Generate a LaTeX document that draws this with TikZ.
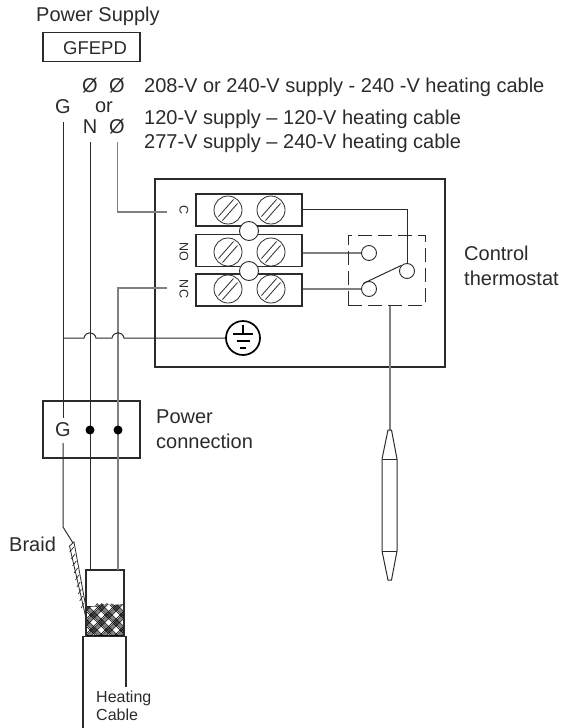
\documentclass[tikz,border=0pt]{standalone}
\usepackage{fontspec}
\setmainfont{Liberation Sans}
\usetikzlibrary{calc}
\definecolor{inkdark}{HTML}{2B2B2B}
\definecolor{wiregray}{HTML}{808080}
\tikzset{
  heavybox/.style={draw=inkdark, line width=1.4pt, rectangle, inner sep=0pt},
  termbox/.style={draw=inkdark, line width=1.1pt, rectangle, inner sep=0pt, minimum width=106pt, minimum height=32pt},
  screwhead/.style={draw=inkdark, line width=.8pt, circle, inner sep=0pt, minimum size=28pt},
  linkring/.style={draw=inkdark, line width=.9pt, circle, fill=white, inner sep=0pt, minimum size=19pt},
  contact/.style={draw=inkdark, line width=.9pt, circle, fill=white, inner sep=0pt, minimum size=15pt},
  wire/.style={draw=inkdark, line width=1pt},
  graywire/.style={draw=wiregray, line width=1.2pt},
  label/.style={inner sep=0pt, text=inkdark, font=\fontsize{20}{25}\selectfont},
  smalllabel/.style={inner sep=0pt, text=inkdark, font=\fontsize{16}{18}\selectfont},
  pinlabel/.style={inner sep=0pt, text=inkdark, rotate=-90, font=\fontsize{12.5}{14}\selectfont},
  blackdot/.style={circle, fill=black, inner sep=0pt, minimum size=9pt}
}
\begin{document}
\begin{tikzpicture}[x=1pt, y=-1pt]
  \useasboundingbox (0,0) rectangle (565,728);

  % supply labels
  \node [label, anchor=west] (supply) at (36,16) {Power Supply};
  \node [heavybox, minimum width=97pt, minimum height=29pt] (gfepd) at (91.5,47) {};
  \node [label, font=\fontsize{18.5}{22}\selectfont] (gfepdtext) at (95,48) {GFEPD};
  \node [label] (phaseA) at (90,86) {Ø};
  \node [label] (phaseB) at (117,86) {Ø};
  \node [label] (ortext) at (104,107) {or};
  \node [label] (groundG) at (63,107) {G};
  \node [label] (neutralN) at (90,127) {N};
  \node [label] (phaseC) at (117,127) {Ø};
  \node [label, anchor=west] (volt1) at (144,87) {208-V or 240-V supply - 240 -V heating cable};
  \node [label, anchor=west] (volt2) at (144,119) {120-V supply – 120-V heating cable};
  \node [label, anchor=west] (volt3) at (144,143) {277-V supply – 240-V heating cable};

  % thermostat
  \node [heavybox, minimum width=290pt, minimum height=188pt] (thermo) at (300,273) {};
  \node [label, anchor=west, align=left] (thermotext) at (464,266) {Control\\thermostat};
  \node [termbox] (termC) at (249,210) {};
  \node [termbox] (termNO) at (249,250.5) {};
  \node [termbox] (termNC) at (249,290) {};
  \node [linkring] (linkA) at (249,231) {};
  \node [linkring] (linkB) at (249,271) {};
  \foreach \name/\row in {C/210, NO/252, NC/289} {
    \foreach \col in {228,271} {
      \node [screwhead] (s\name\col) at (\col,\row) {};
      \draw [inkdark, line width=.8pt] ($(\col,\row)+(-9.5,6.5)$) -- ($(\col,\row)+(5.5,-10.5)$);
      \draw [inkdark, line width=.8pt] ($(\col,\row)+(-5.5,10.5)$) -- ($(\col,\row)+(9.5,-6.5)$);
    }
  }
  \node [pinlabel] (pinC) at (184,210) {C};
  \node [pinlabel] (pinNO) at (184,252) {NO};
  \node [pinlabel] (pinNC) at (184,289) {NC};

  % switch
  \node [contact] (contactNO) at (369,253) {};
  \node [contact] (contactNC) at (369,289) {};
  \node [contact] (contactCom) at (407,271) {};
  \draw [wire] (termC.east |- 0,209) -| (contactCom.north);
  \draw [graywire] (termNO.east |- contactNO) -- (contactNO.west);
  \draw [graywire] (termNC.east |- contactNC) -- (contactNC.west);
  \draw [wire] (contactNC.north west) -- (contactCom.north west);
  \node [draw=inkdark, dash pattern=on 14pt off 6pt, line width=1pt, rectangle, inner sep=0pt, minimum width=77pt, minimum height=70pt] (switchbox) at (386.5,270) {};

  % sensor bulb
  \coordinate (bulbtop) at (390,430);
  \draw [graywire] (switchbox.south -| bulbtop) -- (bulbtop);
  \draw [inkdark, line width=1pt] (388,430) -- (391.5,430) -- (397,459) -- (397,551) -- (391.5,580) -- (388,580) -- (382,551) -- (382,459) -- cycle;
  \draw [inkdark, line width=1pt] (382,459) -- (397,459) (382,551) -- (397,551);

  % power connection
  \node [heavybox, minimum width=97pt, minimum height=57pt] (powerbox) at (91.5,429.5) {};
  \node [label] (powerG) at (63,430) {G};
  \node [label, anchor=west, align=left] (powertext) at (156,429.5) {Power\\connection};

  % ground
  \node [draw=black, line width=1.7pt, circle, inner sep=0pt, minimum size=34pt] (earth) at (243,338) {};
  \draw [black, line width=1.4pt] (243,325) -- (243,334);
  \draw [black, line width=2pt] (233,334) -- (253,334);
  \draw [black, line width=2pt] (236.5,341) -- (249.5,341);
  \draw [black, line width=2.2pt] (240,348) -- (246,348);

  % cable
  \coordinate (slackG) at (63,527);
  \coordinate (braidtop) at (73,543);
  \node [heavybox, minimum width=38pt, minimum height=66pt] (cablecore) at (105,603) {};
  \draw [wiregray, line width=.8pt] (87,606) -- (96,606);
  \begin{scope}
    \clip (87,636) -- (87,606) -- (95,606) -- (97,603) -- (100,605) -- (102,603) -- (105,605) -- (107,603) -- (110,605) -- (112,603) -- (114,605) -- (123,604) -- (123,636) -- cycle;
    \foreach \o in {30,45,...,195} {
      \foreach \d in {0,1.8,3.6,5.4,7.2} {
        \draw [black, line width=.55pt] ($(\o+\d,600)$) -- ($(\o+\d-45,645)$);
        \draw [black, line width=.55pt] ($(\o+\d-90,600)$) -- ($(\o+\d-45,645)$);
      }
    }
  \end{scope}
  \draw [inkdark, line width=1.4pt] (83,728) -- (83,636.5) -- (126,636.5) -- (126,687);
  \draw [inkdark, line width=.8pt, fill=white] (69.5,546) -- (74,542) -- (85.5,605) -- (85.5,616) -- cycle;
  \foreach \y in {552,559,...,608} {
    \draw [inkdark, line width=.7pt] ($(\y*.205-43.5,\y)$) -- ($(\y*.18-25.5,\y-5)$);
  }
  \draw [wire] (groundG.south |- 0,122) -- (63,418);
  \draw [wire] (63,443) -- (slackG) -- (braidtop);
  \draw [wire] (neutralN.south |- 0,142) -- (cablecore.north -| neutralN);
  \draw [graywire] (117.5,142) -- (117.5,212) -- (167,212);
  \draw [graywire] (167,288) -- (118,288) -- (118,570);

  % ground wire with hops
  \draw [wire] (63,338) -- (84,338) .. controls (85.5,331) and (94.5,331) .. (96,338) -- (112,338) .. controls (113.5,331) and (122.5,331) .. (124,338) -- (earth.west);

  % dots and small labels
  \node [blackdot] (dotN) at (90,430) {};
  \node [blackdot] (dotL) at (118,430) {};
  \node [label, anchor=west] (braidtext) at (9,544) {Braid};
  \node [smalllabel, anchor=west] (heattext) at (96,698) {Heating};
  \node [smalllabel, anchor=west] (cabletext) at (96,715) {Cable};
\end{tikzpicture}
\end{document}
